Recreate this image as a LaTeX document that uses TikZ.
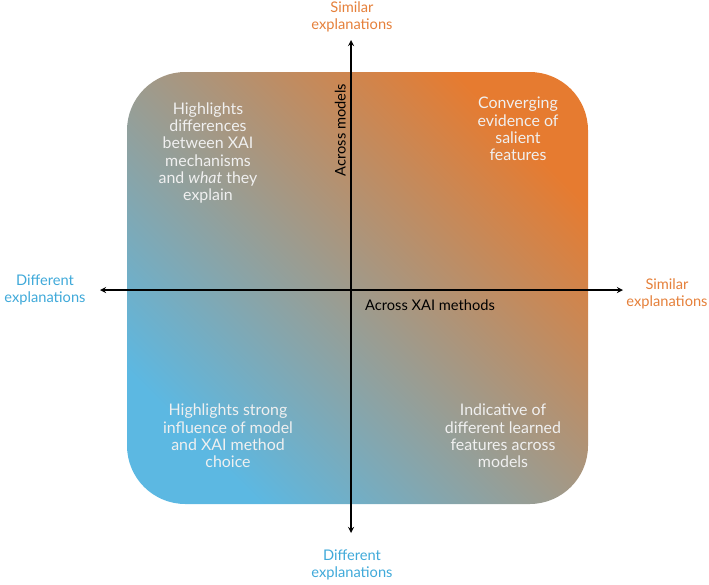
\documentclass[tikz,border=0pt]{standalone}
\usepackage{fontspec}
\setmainfont{Lato}
\usepackage{tikz}
\usetikzlibrary{arrows,calc,positioning}

\definecolor{simorange}{HTML}{E5803A}
\definecolor{difblue}{HTML}{3FA9D9}
\definecolor{boxorange}{HTML}{E67B30}
\definecolor{boxmid}{HTML}{A99A87}
\definecolor{boxblue}{HTML}{5CB8E2}

\begin{document}
\begin{tikzpicture}[%
    x=0.03cm,
    y=-0.03cm,
    >=stealth,
    endlabel/.style={font=\fontsize{12.5}{15}\selectfont, align=center},
    quadtext/.style={font=\fontsize{13.6}{14.8}\selectfont, align=center, text=white!88!gray},
    axisname/.style={font=\fontsize{12.5}{15}\selectfont}
  ]
  \useasboundingbox (0,0) rectangle (709,584);

  % background square
  \shade[rounded corners=1.75cm, bottom color=boxblue, middle color=boxmid, top color=boxorange, shading angle=-45]
    (127,72) rectangle (588,504);

  % axis ends
  \coordinate (top) at (351,40);
  \coordinate (bottom) at (351,533);
  \coordinate (left) at (100,290);
  \coordinate (right) at (623,290);

  \draw[<->, line width=1.3pt] (bottom) -- (top);
  \draw[<->, line width=1.3pt] (left) -- (right);

  \node[endlabel, text=simorange] (simtop) at (352,17) {Similar\\explanations};
  \node[endlabel, text=difblue] (difbottom) at (352,565) {Different\\explanations};
  \node[endlabel, text=difblue] (difleft) at (45,290) {Different\\explanations};
  \node[endlabel, text=simorange] (simright) at (667,294) {Similar\\explanations};

  \node[axisname, rotate=90, anchor=south] (models) at (350,130) {Across models};
  \node[axisname] (methods) at (430,305) {Across XAI methods};

  \node[quadtext] (tl) at (208,153) {Highlights\\differences\\between XAI\\mechanisms\\and \textit{what} they\\explain};
  \node[quadtext] (tr) at (518,129) {Converging\\evidence of\\salient\\features};
  \node[quadtext] (bl) at (228,436) {Highlights strong\\influence of model\\and XAI method\\choice};
  \node[quadtext] (br) at (503,436) {Indicative of\\different learned\\features across\\models};
\end{tikzpicture}
\end{document}
